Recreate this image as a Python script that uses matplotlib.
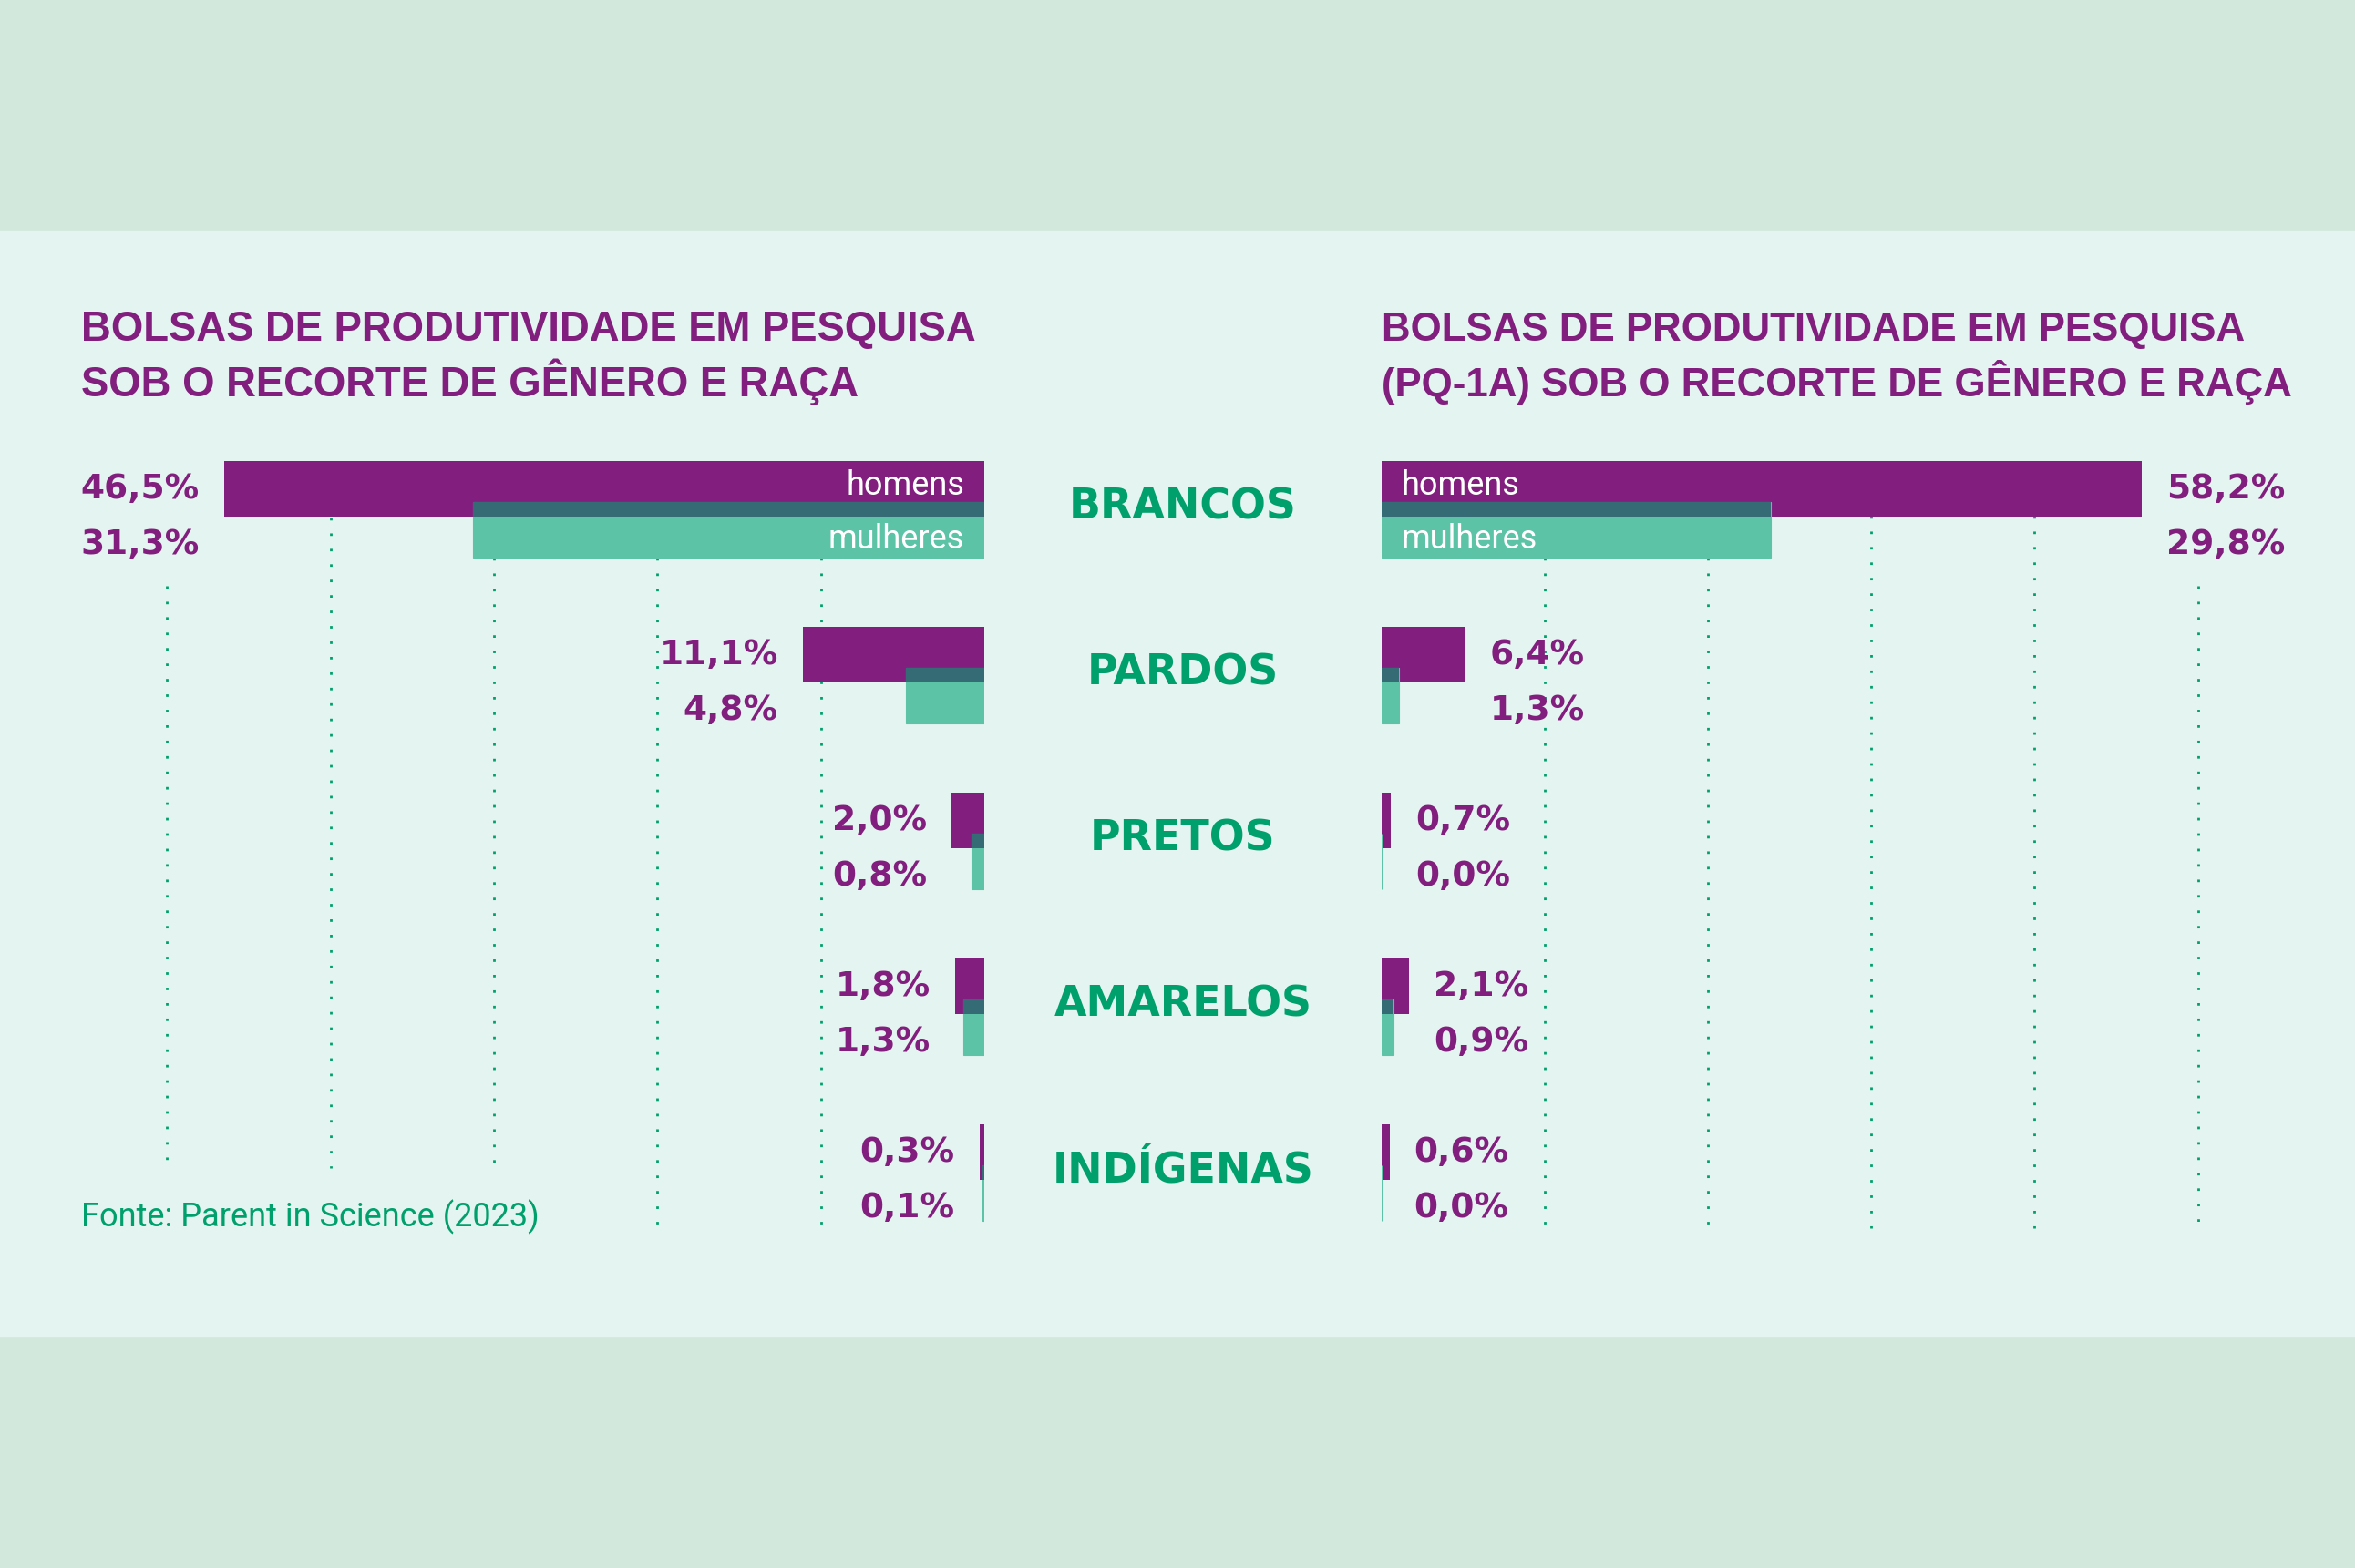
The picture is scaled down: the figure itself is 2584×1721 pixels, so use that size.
import numpy as np
import matplotlib.pyplot as plt
from matplotlib import transforms
from matplotlib.patches import Rectangle

# data (percent)
categories = ["BRANCOS", "PARDOS", "PRETOS", "AMARELOS", "INDÍGENAS"]
pq_men = [46.5, 11.1, 2.0, 1.8, 0.3]
pq_women = [31.3, 4.8, 0.8, 1.3, 0.1]
pq1a_men = [58.2, 6.4, 0.7, 2.1, 0.6]
pq1a_women = [29.8, 1.3, 0.0, 0.9, 0.0]
grid_left = [50, 40, 30, 20, 10]
grid_right = [12.5, 25, 37.5, 50, 62.5]

title_left = ["BOLSAS DE PRODUTIVIDADE EM PESQUISA",
              "SOB O RECORTE DE GÊNERO E RAÇA"]
title_right = ["BOLSAS DE PRODUTIVIDADE EM PESQUISA",
               "(PQ-1A) SOB O RECORTE DE GÊNERO E RAÇA"]
source = "Fonte: Parent in Science (2023)"

# colours
OUTER = "#d2e8dc"
INNER = "#e4f4f0"
PURPLE = "#821e7e"
TEAL = "#5cc3a6"
DARK = "#356b74"
GREEN = "#00a06c"

# layout, in pixels of the 2584x1721 canvas
W, H = 2584, 1721
ZERO_L, ZERO_R = 1080, 1516
BAR_MAX = 834
ROW0, ROW_STEP = 559, 182
BAR_H, BAR_OFF, OV_H = 61, 22.5, 16


def row_units(px):
    return px / ROW_STEP


def fmt(v):
    return f"{v:.1f}%".replace(".", ",")


fig = plt.figure(figsize=(W / 100, H / 100), dpi=100, facecolor=OUTER)
fig.add_artist(Rectangle((0, 1 - 1467 / H), 1, (1467 - 253) / H,
                         transform=fig.transFigure, color=INNER, zorder=0))

rows = np.arange(len(categories))


def panel(rect, men, women, grid, tops, bottoms, side):
    ax = fig.add_axes(rect)
    ax.set_facecolor("none")
    ax.axis("off")
    scale = BAR_MAX / max(max(men), max(women))
    span = rect[2] * W / scale
    if side == "left":
        ax.set_xlim(span, 0)
    else:
        ax.set_xlim(0, span)
    ax.set_ylim((H - ROW0) / ROW_STEP, -ROW0 / ROW_STEP)

    ax.vlines(grid, [(t - ROW0) / ROW_STEP for t in tops],
              [(b - ROW0) / ROW_STEP for b in bottoms],
              colors=GREEN, linewidth=2, linestyles=[(0, (1, 5.1))],
              zorder=1)

    men = np.array(men)
    women = np.array(women)
    ax.barh(rows - row_units(BAR_OFF), men, height=row_units(BAR_H),
            color=PURPLE, linewidth=0, zorder=2)
    ax.barh(rows + row_units(BAR_OFF), women, height=row_units(BAR_H),
            color=TEAL, edgecolor=TEAL, linewidth=0.8, zorder=3)
    ax.barh(rows, np.minimum(men, women), height=row_units(OV_H),
            color=DARK, linewidth=0, zorder=4)

    # sign points away from the centre column, towards the bar ends
    sign = -1 if side == "left" else 1
    ha = "right" if side == "left" else "left"
    lab_tr = transforms.offset_copy(ax.transData, fig=fig, x=sign * 27,
                                    y=0, units="dots")
    for i in rows:
        end = max(men[i], women[i])
        ax.text(end, i + row_units(-12), fmt(men[i]), transform=lab_tr,
                ha=ha, va="baseline", color=PURPLE, fontsize=27,
                fontweight="bold", family="DejaVu Sans")
        ax.text(end, i + row_units(49), fmt(women[i]), transform=lab_tr,
                ha=ha, va="baseline", color=PURPLE, fontsize=27,
                fontweight="bold", family="DejaVu Sans")

    # series names sit inside the first pair of bars, near the zero line
    name_tr = transforms.offset_copy(ax.transData, fig=fig, x=sign * 22,
                                     y=0, units="dots")
    ax.text(0, row_units(-16), "homens", transform=name_tr, ha=ha,
            va="baseline", color="white", fontsize=26, family="Roboto",
            zorder=5)
    ax.text(0, row_units(43), "mulheres", transform=name_tr, ha=ha,
            va="baseline", color="white", fontsize=26, family="Roboto",
            zorder=5)
    return ax


ax_l = panel([0, 0, ZERO_L / W, 1], pq_men, pq_women, grid_left,
             [643, 568, 612, 612, 612], [1282, 1282, 1282, 1346, 1346],
             "left")
ax_r = panel([ZERO_R / W, 0, 1 - ZERO_R / W, 1], pq1a_men, pq1a_women,
             grid_right, [612, 612, 566, 566, 643], [1348] * 5, "right")

cat_tr = transforms.blended_transform_factory(fig.transFigure, ax_l.transData)
for i, name in enumerate(categories):
    ax_l.text((ZERO_L + ZERO_R) / 2 / W, i + row_units(11), name,
              transform=cat_tr, ha="center", va="baseline", color=GREEN,
              fontsize=33, fontweight="bold", family="DejaVu Sans")

for x0, lines, size in ((89, title_left, 32.8), (ZERO_R, title_right, 31.6)):
    for k, line in enumerate(lines):
        fig.text(x0 / W, 1 - (374 + 61 * k) / H, line, ha="left",
                 va="baseline", color=PURPLE, fontsize=size,
                 fontweight="bold", family="Liberation Sans")

fig.text(89 / W, 1 - 1346 / H, source, ha="left", va="baseline",
         color=GREEN, fontsize=26, family="Roboto")

fig.savefig("out.png", dpi=100, facecolor=OUTER)
